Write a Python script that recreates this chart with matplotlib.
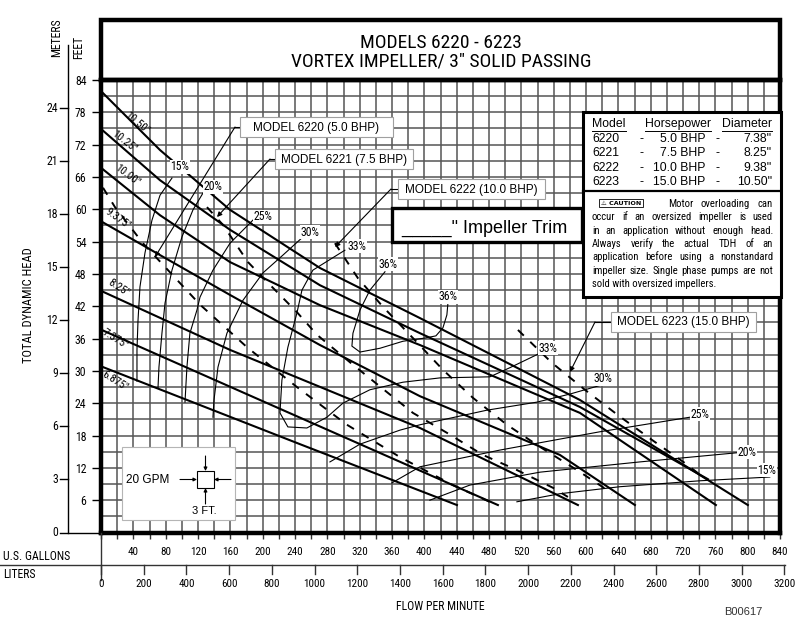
"""Pump curve chart: Models 6220-6223 vortex impeller."""

import matplotlib

matplotlib.use("Agg")
import matplotlib.pyplot as plt
from matplotlib.lines import Line2D
from matplotlib.patches import FancyArrowPatch, Rectangle
import numpy as np

NARROW = ["Liberation Sans Narrow", "Roboto Condensed", "Liberation Sans", "DejaVu Sans"]
REGULAR = ["Liberation Sans", "DejaVu Sans"]
plt.rcParams["font.family"] = NARROW

FIG_W, FIG_H = 800, 643
GAL_TO_L = 3.785
FT_TO_M = 0.3048

# ---- axis values ----
gpm_ticks = list(range(40, 841, 40))
liter_ticks = list(range(0, 3201, 200))
feet_ticks = list(range(6, 85, 6))
meter_ticks = list(range(0, 25, 3))

# ---- impeller curves (flow gpm, head ft) ----
imp_1050_q = [0.9, 73.0, 159.6, 270.9, 394.6, 592.5, 800.2]
imp_1050_h = [81.8, 71.0, 59.9, 49.1, 39.8, 24.6, 5.1]
imp_1025_q = [0.9, 73.0, 159.6, 270.9, 394.6, 592.5, 750.8]
imp_1025_h = [74.8, 65.4, 56.2, 45.9, 37.0, 23.3, 9.9]
imp_1000_q = [0.9, 73.0, 159.6, 270.9, 394.6, 592.5, 760.7]
imp_1000_h = [67.6, 58.9, 50.2, 42.2, 34.8, 22.2, 5.1]
imp_9375_q = [0.9, 73.0, 159.6, 270.9, 394.6, 567.7, 660.5]
imp_9375_h = [57.7, 51.5, 44.1, 34.8, 25.3, 14.4, 5.1]
imp_825_q = [0.9, 159.6, 394.6, 590.0]
imp_825_h = [44.8, 33.9, 19.4, 5.1]
imp_7375_q = [0.9, 196.7, 491.0]
imp_7375_h = [37.6, 24.6, 5.1]
imp_6875_q = [0.9, 246.1, 440.3]
imp_6875_h = [30.8, 16.4, 5.1]
imp_labels = ['10.50"', '10.25"', '10.00"', '9.375"', '8.25"', '7.375"', '6.875"']

# ---- efficiency curves ----
eff15_left_q = [87.8, 73.0, 63.1, 54.4, 48.2, 45.8, 44.5, 44.5]
eff15_left_h = [65.8, 62.6, 58.0, 51.9, 45.6, 39.4, 33.9, 28.1]
eff15_right_q = [514.5, 567.7, 641.9, 740.9, 827.4]
eff15_right_h = [5.7, 7.2, 8.5, 9.6, 10.3]
eff20_left_q = [126.1, 113.8, 100.2, 87.8, 79.2, 75.4, 71.7, 70.5]
eff20_left_h = [63.0, 59.9, 54.9, 48.7, 42.6, 37.0, 30.7, 26.8]
eff20_right_q = [406.8, 456.3, 543.0, 666.4, 786.6]
eff20_right_h = [6.0, 8.8, 11.2, 13.1, 14.8]
eff25_left_q = [188.0, 159.6, 138.5, 122.5, 118.7, 110.0, 106.3, 103.9]
eff25_left_h = [58.0, 53.7, 48.7, 43.7, 41.3, 37.0, 30.7, 24.2]
eff25_right_q = [359.8, 394.6, 493.5, 617.2, 728.5]
eff25_right_h = [9.2, 12.2, 15.3, 18.7, 21.4]
eff30_left_q = [248.6, 225.1, 200.4, 175.6, 155.8, 144.7, 139.8, 138.5]
eff30_left_h = [54.7, 51.5, 48.2, 43.1, 37.0, 30.7, 24.6, 21.4]
eff30_right_q = [283.2, 320.4, 369.8, 394.6, 477.2, 539.3, 580.1, 619.7]
eff30_right_h = [13.1, 16.4, 19.0, 20.0, 22.7, 24.2, 25.7, 27.4]
eff33_q = [301.7, 262.1, 248.6, 242.3, 231.2, 223.8, 221.4, 231.2, 254.7,
           279.5, 299.2, 332.7, 373.5, 419.3, 481.1, 505.9, 540.5]
eff33_h = [52.4, 48.7, 45.0, 40.7, 34.4, 28.3, 22.2, 19.6, 19.4,
           21.4, 24.0, 26.5, 27.9, 28.7, 28.9, 30.6, 33.1]
eff36_q = [351.3, 332.7, 320.4, 311.7, 310.4, 320.4, 345.1, 373.5, 400.7,
           414.3, 423.0, 427.9, 429.2]
eff36_h = [48.4, 45.0, 41.3, 37.0, 34.6, 33.5, 34.2, 35.5, 36.1,
           36.5, 38.0, 40.4, 42.6]

# ---- non-overloading (motor HP) lines ----
hp5_q = [2.5, 17.3, 51.9, 82.9, 122.5, 180.6, 242.4, 304.3, 369.8, 435.4, 483.6]
hp5_h = [64.0, 60.4, 53.7, 48.7, 42.3, 34.4, 27.0, 20.0, 14.0, 8.8, 5.5]
hp75_q = [131.1, 150.9, 181.8, 211.5, 242.4, 267.2, 308.0, 347.6, 385.9,
          428.0, 472.5, 514.5, 559.1, 577.6]
hp75_h = [60.4, 57.1, 50.2, 45.6, 40.9, 36.7, 31.6, 26.8, 22.2,
          18.5, 14.4, 11.6, 8.3, 6.6]
hp10_q = [289.4, 317.9, 348.8, 388.4, 423.0, 460.1, 502.2, 543.0, 588.8, 632.1]
hp10_h = [53.7, 47.2, 41.9, 35.7, 30.2, 25.0, 20.0, 15.9, 11.6, 7.3]
hp15_q = [515.8, 557.8, 598.6, 639.4, 681.5, 722.3, 744.6]
hp15_h = [37.6, 31.5, 26.5, 21.8, 17.2, 12.9, 10.3]

# ---- legend table ----
models = ["6220", "6221", "6222", "6223"]
horsepower = ["5.0 BHP", "7.5 BHP", "10.0 BHP", "15.0 BHP"]
diameters = ['7.38"', '8.25"', '9.38"', '10.50"']
caution_lines = [
    "Motor overloading can",
    "occur if an oversized impeller is used",
    "in an application without enough head.",
    "Always verify the actual TDH of an",
    "application before using a nonstandard",
    "impeller size. Single phase pumps are not",
    "sold with oversized impellers.",
]


def fxy(x, y):
    """Pixel position (from top-left) to figure fraction."""
    return x / FIG_W, 1 - y / FIG_H


fig = plt.figure(figsize=(FIG_W / 100, FIG_H / 100), dpi=100, facecolor="white")
renderer = fig.canvas.get_renderer()


def fig_line(xs, ys, **kw):
    pts = [fxy(x, y) for x, y in zip(xs, ys)]
    fig.add_artist(Line2D([p[0] for p in pts], [p[1] for p in pts],
                          transform=fig.transFigure, **kw))


def fig_rect(x0, y0, x1, y1, **kw):
    fig.add_artist(Rectangle(fxy(x0, y1), (x1 - x0) / FIG_W, (y1 - y0) / FIG_H,
                             transform=fig.transFigure, **kw))


def fig_text(x, y, s, **kw):
    return fig.text(*fxy(x, y), s, **kw)


def fig_arrow(x0, y0, x1, y1, scale=7):
    fig.add_artist(FancyArrowPatch(
        fxy(x0, y0), fxy(x1, y1), transform=fig.transFigure,
        arrowstyle="-|>", mutation_scale=scale, lw=0.8, color="black",
        shrinkA=0, shrinkB=0, zorder=6))


# ---- main plot ----
left, right, top, bottom = 101, 780, 80, 532.5
ax = fig.add_axes([left / FIG_W, 1 - bottom / FIG_H,
                   (right - left) / FIG_W, (bottom - top) / FIG_H])
ax.set_xlim(0, 840)
ax.set_ylim(0, 84)
ax.set_xticks(np.arange(0, 841, 20))
ax.set_yticks(feet_ticks)
ax.set_yticks(np.arange(0, 85, 3), minor=True)
ax.grid(True, which="both", color="#555555", lw=1.1, zorder=0)
ax.set_axisbelow(True)
ax.tick_params(axis="x", length=4, width=1, color="#333333", labelbottom=False)
ax.tick_params(axis="y", which="major", length=6.5, width=1, pad=4,
               labelsize=8.5)
ax.tick_params(axis="y", which="minor", length=0)
for spine in ax.spines.values():
    spine.set_linewidth(3.2)

for q, h in [(imp_1050_q, imp_1050_h), (imp_1025_q, imp_1025_h),
             (imp_1000_q, imp_1000_h), (imp_9375_q, imp_9375_h),
             (imp_825_q, imp_825_h), (imp_7375_q, imp_7375_h),
             (imp_6875_q, imp_6875_h)]:
    ax.plot(q, h, color="black", lw=1.5, zorder=3, solid_joinstyle="round")

for q, h in [(eff15_left_q, eff15_left_h), (eff15_right_q, eff15_right_h),
             (eff20_left_q, eff20_left_h), (eff20_right_q, eff20_right_h),
             (eff25_left_q, eff25_left_h), (eff25_right_q, eff25_right_h),
             (eff30_left_q, eff30_left_h), (eff30_right_q, eff30_right_h),
             (eff33_q, eff33_h), (eff36_q, eff36_h)]:
    ax.plot(q, h, color="black", lw=0.8, zorder=3)

for q, h in [(hp5_q, hp5_h), (hp75_q, hp75_h), (hp10_q, hp10_h), (hp15_q, hp15_h)]:
    ax.plot(q, h, color="black", lw=1.4, dashes=(4.2, 4.6), zorder=3)

# impeller labels
imp_label_px = [(137, 123), (124, 141), (127, 175), (118, 219), (119, 288), (115, 339), (115, 381)]
imp_label_rot = [-40, -38, -37, -35, -33, -32, -32]
for text, (x, y), rot in zip(imp_labels, imp_label_px, imp_label_rot):
    fig_text(x, y, text, fontsize=8, rotation=rot, ha="center", va="center",
             rotation_mode="anchor", zorder=5)

# efficiency labels
eff_label_px = [(180, 167, "15%"), (213, 187, "20%"), (263, 217, "25%"), (310, 232, "30%"),
                (357, 246, "33%"), (388, 264, "36%"), (448, 297, "36%"), (548, 348, "33%"),
                (603, 379, "30%"), (700, 414, "25%"), (747, 452, "20%"), (767, 470, "15%")]
for x, y, s in eff_label_px:
    fig_text(x, y, s, fontsize=8.5, ha="center", va="center", zorder=5,
             bbox=dict(boxstyle="square,pad=0.05", fc="white", ec="none"))

# ---- title box ----
fig_rect(101, 20, 780, 80, fill=False, ec="black", lw=3.2, zorder=4)
fig_text(441, 43, "MODELS 6220 - 6223", fontsize=14, ha="center", va="center")
fig_text(441, 62, 'VORTEX IMPELLER/ 3" SOLID PASSING', fontsize=14, ha="center", va="center")

# ---- left axes ----
ax.set_yticklabels([str(v) for v in feet_ticks])
fig_line([68, 68], [45, 532.5], color="black", lw=1)
fig_line([60, 101], [532.5, 532.5], color="black", lw=1)
for m in meter_ticks:
    y_px = FIG_H - ax.transData.transform((0, m / FT_TO_M))[1]
    if m > 0:
        fig_line([60, 68], [y_px, y_px], color="black", lw=1)
    fig_text(58, y_px, str(m), fontsize=8.5, ha="right", va="center")
fig_text(57, 38, "METERS", fontsize=8.5, rotation=90, ha="center", va="center")
fig_text(79, 47, "FEET", fontsize=8.5, rotation=90, ha="center", va="center")
fig_text(28, 305, "TOTAL DYNAMIC HEAD", fontsize=9, rotation=90, ha="center", va="center")

# ---- bottom axes ----
for g in gpm_ticks:
    x_px = ax.transData.transform((g, 0))[0]
    fig_text(x_px, 552, str(g), fontsize=8, ha="center", va="center")
fig_text(3, 556, "U.S. GALLONS", fontsize=8.5, ha="left", va="center")
fig_line([0, 785], [565, 565], color="#333333", lw=1)
fig_line([101, 101], [532.5, 580], color="#333333", lw=1)
for lt in liter_ticks:
    x_px = ax.transData.transform((lt / GAL_TO_L, 0))[0]
    fig_line([x_px, x_px], [565, 574], color="#333333", lw=1)
    fig_text(x_px, 584, str(lt), fontsize=8, ha="center", va="center")
fig_text(3, 574, "LITERS", fontsize=8.5, ha="left", va="center")
fig_text(440, 607, "FLOW PER MINUTE", fontsize=8.5, ha="center", va="center")
fig_text(743, 612, "B00617", fontsize=8, ha="center", va="center",
         family=REGULAR, color="#333333")

# ---- model callouts ----
callouts = [
    ("MODEL 6220 (5.0 BHP)", (240, 117, 393, 137), [(240, 127), (235, 127)], (155, 257)),
    ("MODEL 6221 (7.5 BHP)", (275, 149, 413, 169), [(275, 159), (270, 159)], (217, 217)),
    ("MODEL 6222 (10.0 BHP)", (398, 179, 545, 199), [(398, 189), (391, 189)], (335, 247)),
    ("MODEL 6223 (15.0 BHP)", (611, 312, 756, 332), [(611, 322), (595, 322)], (570, 372)),
]
for text, (x0, y0, x1, y1), elbow, tip in callouts:
    fig_rect(x0, y0, x1, y1, fc="white", ec="#a0a0a0", lw=0.8, zorder=4)
    fig_text((x0 + x1) / 2, (y0 + y1) / 2 + 0.5, text, fontsize=8.5, family=REGULAR,
             ha="center", va="center", zorder=5)
    fig_line([elbow[0][0], elbow[1][0]], [elbow[0][1], elbow[1][1]], color="black", lw=0.8)
    fig_arrow(elbow[1][0], elbow[1][1], tip[0], tip[1])

# ---- impeller trim box ----
fig_rect(392, 208, 582, 242, fc="white", ec="black", lw=2.4, zorder=4)
fig_text(401, 233, '_____" Impeller Trim', fontsize=13, family=REGULAR,
         ha="left", va="baseline", zorder=5)

# ---- scale inset ----
fig_rect(122, 447, 235, 520, fc="white", ec="#b5b5b5", lw=0.8, zorder=4)
fig_text(126, 480, "20 GPM", fontsize=8.5, family=REGULAR, ha="left", va="center", zorder=5)
fig_rect(197, 471, 214, 488, fc="white", ec="black", lw=0.8, zorder=5)
fig_arrow(180, 479.5, 197, 479.5, scale=5)
fig_arrow(231, 479.5, 214, 479.5, scale=5)
fig_arrow(205.5, 456, 205.5, 471, scale=5)
fig_arrow(205.5, 504, 205.5, 488, scale=5)
fig_text(204, 511, "3 FT.", fontsize=8, family=REGULAR, ha="center", va="center", zorder=5)

# ---- model / caution table ----
fig_rect(583, 112, 781, 297, fc="white", ec="black", lw=2.2, zorder=4)
fig_line([583, 781], [191, 191], color="black", lw=1.6, zorder=5)
headers = [("Model", 592, "left"), ("Horsepower", 678, "center"), ("Diameter", 772, "right")]
for text, x, ha in headers:
    t = fig_text(x, 124, text, fontsize=8.8, family=REGULAR, ha=ha, va="center", zorder=5)
    bb = t.get_window_extent(renderer)
    fig_line([bb.x0, bb.x1], [131, 131], color="black", lw=0.7, zorder=5)
row_y = [139, 153, 168, 182]
for y, mdl, hp, dia in zip(row_y, models, horsepower, diameters):
    fig_text(592, y, mdl, fontsize=8.8, family=REGULAR, ha="left", va="center", zorder=5)
    fig_text(642, y, "-", fontsize=8.8, family=REGULAR, ha="center", va="center", zorder=5)
    fig_text(705, y, hp, fontsize=8.8, family=REGULAR, ha="right", va="center", zorder=5)
    fig_text(717, y, "-", fontsize=8.8, family=REGULAR, ha="center", va="center", zorder=5)
    fig_text(772, y, dia, fontsize=8.8, family=REGULAR, ha="right", va="center", zorder=5)

fig_text(621, 203, "\u26a0 CAUTION", fontsize=4.6, fontweight="bold",
         family=["DejaVu Sans"], ha="center", va="center", zorder=6,
         bbox=dict(boxstyle="square,pad=0.25", fc="white", ec="black", lw=0.6))


def justify(line, y, x0, x1, size):
    words = line.split()
    texts = [fig_text(0, y, w, fontsize=size, ha="left", va="center", zorder=5)
             for w in words]
    widths = [t.get_window_extent(renderer).width for t in texts]
    gap = (x1 - x0 - sum(widths)) / max(len(words) - 1, 1)
    x = x0
    for t, w in zip(texts, widths):
        t.set_position(fxy(x, y))
        x += w + gap


caution_size = 7.7
caution_y = [204, 217, 231, 244, 257, 271, 284]
for i, (line, y) in enumerate(zip(caution_lines, caution_y)):
    if i == 0:
        justify(line, y, 668, 773, caution_size)
    elif i == len(caution_lines) - 1:
        fig_text(592, y, line, fontsize=caution_size, ha="left", va="center", zorder=5)
    else:
        justify(line, y, 592, 773, caution_size)

fig.savefig("out.png", dpi=100, facecolor="white")
